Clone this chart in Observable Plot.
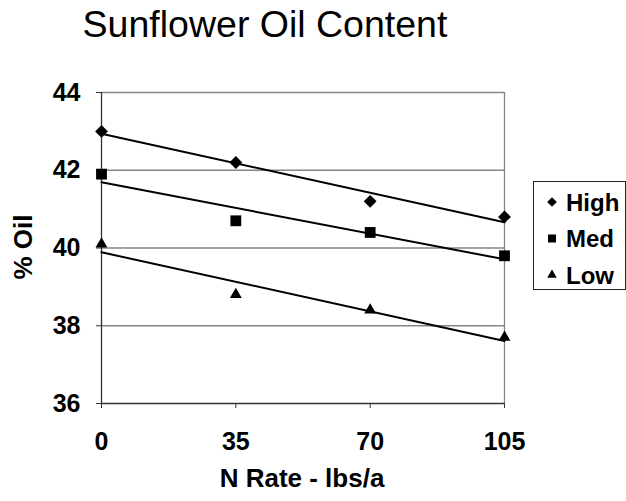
<!DOCTYPE html>
<html><head><meta charset="utf-8">
<script src="https://cdn.jsdelivr.net/npm/d3@7"></script>
<script src="https://cdn.jsdelivr.net/npm/@observablehq/plot@0.6"></script>
<style>
body{margin:0;background:#fff;}
#c{width:626px;height:501px;}
</style></head><body><div id="c"></div>
<script>
const nRates = [0, 35, 70, 105];
const seriesNames = ["High", "Med", "Low"];
const highOil = [43.0, 42.2, 41.2, 40.8];
const medOil = [41.9, 40.7, 40.4, 39.8];
const lowOil = [40.1, 38.8, 38.4, 37.7];
const yTicks = [36, 38, 40, 42, 44];
const xTicks = [0, 35, 70, 105];
const titleText = "Sunflower Oil Content";
const xLabel = "N Rate - lbs/a";
const yLabel = "% Oil";

const seriesValues = {High: highOil, Med: medOil, Low: lowOil};
const data = seriesNames.flatMap(s => nRates.map((x, i) => ({series: s, x, y: seriesValues[s][i]})));
const symbolOf = {High: "diamond2", Med: "square", Low: "triangle"};
const rOf = {High: 5.8, Med: 6.1, Low: 4.4};

const font = "'Liberation Sans', Arial, sans-serif";

const chart = Plot.plot({
  width: 626, height: 501,
  marginLeft: 101, marginRight: 122, marginTop: 92, marginBottom: 98,
  style: {fontFamily: font, fontSize: "25px", fontWeight: "bold", color: "black", background: "white"},
  x: {domain: [0, 105]},
  y: {domain: [36, 44]},
  marks: [
    Plot.gridY(yTicks.filter(d => d > 36), {stroke: "#868686", strokeOpacity: 1, strokeWidth: 1.3}),
    Plot.ruleX([105], {stroke: "#868686", strokeWidth: 1.3}),
    Plot.axisY({ticks: yTicks, tickSize: 5, tickPadding: 16, tickFormat: d => d, label: null, stroke: "#333", fill: "black"}),
    Plot.axisX({ticks: xTicks, tickSize: 5, tickPadding: 24, tickFormat: d => d, label: null, stroke: "#333", fill: "black"}),
    Plot.ruleX([0], {stroke: "#333", strokeWidth: 1.3}),
    Plot.ruleY([36], {stroke: "#333", strokeWidth: 1.3}),
    ...seriesNames.map(s => Plot.linearRegressionY(data.filter(d => d.series === s), {x: "x", y: "y", ci: 0, stroke: "black", strokeWidth: 2})),
    ...seriesNames.map(s => Plot.dot(data.filter(d => d.series === s), {x: "x", y: "y", symbol: () => symbolOf[s], fill: "black", r: rOf[s]}))
  ]
});
document.getElementById("c").appendChild(chart);

const svg = d3.select(chart);
svg.append("text").attr("x", 265).attr("y", 37).attr("text-anchor", "middle")
  .style("font-family", font).style("font-size", "37.5px").style("font-weight", "normal").attr("fill", "black").text(titleText);
svg.append("text").attr("x", 302).attr("y", 487).attr("text-anchor", "middle")
  .style("font-size", "26px").attr("fill", "black").text(xLabel);
svg.append("text").attr("transform", "translate(32,247) rotate(-90)").attr("text-anchor", "middle")
  .style("font-size", "26px").attr("fill", "black").text(yLabel);

// legend
const lg = svg.append("g");
lg.append("rect").attr("x", 533.5).attr("y", 181.5).attr("width", 92).attr("height", 108)
  .attr("fill", "white").attr("stroke", "#222").attr("stroke-width", 1);
const legendSym = {High: d3.symbolDiamond2, Med: d3.symbolSquare, Low: d3.symbolTriangle};
const legendSize = {High: 60, Med: 64, Low: 40};
seriesNames.forEach((s, i) => {
  const cy = 202 + i * 36.5;
  lg.append("path").attr("transform", `translate(552,${cy})`)
    .attr("d", d3.symbol(legendSym[s], legendSize[s])()).attr("fill", "black");
  lg.append("text").attr("x", 566).attr("y", cy + 8.5).attr("text-anchor", "start")
    .style("font-size", "24px").attr("fill", "black").text(s);
});
</script></body></html>
